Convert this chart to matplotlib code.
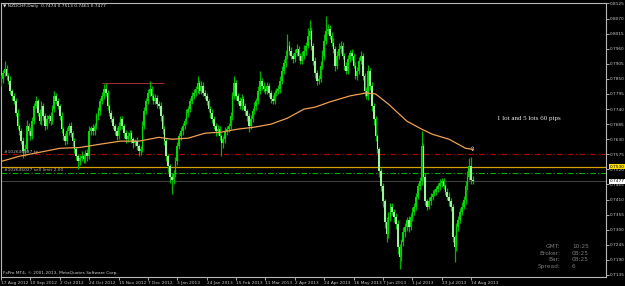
import matplotlib
matplotlib.use("Agg")
import matplotlib.pyplot as plt
import numpy as np

# ---------------- data ----------------
symbol_title = "NZDCHF,Daily  0.7474 0.7513 0.7461 0.7477"
open0 = 0.7835
closes = [
0.7850,0.7872,0.7887,0.7861,0.7843,0.7806,0.7788,0.7769,0.7725,0.7678,
0.7659,0.7623,0.7586,0.7593,0.7678,0.7659,0.7641,0.7696,0.7751,0.7769,
0.7725,0.7696,0.7751,0.7714,0.7678,0.7703,0.7714,0.7696,0.7740,0.7788,
0.7769,0.7751,0.7714,0.7667,0.7641,0.7623,0.7659,0.7678,0.7652,0.7623,
0.7593,0.7568,0.7549,0.7560,0.7568,0.7557,0.7579,0.7568,0.7659,0.7670,
0.7659,0.7678,0.7714,0.7733,0.7769,0.7788,0.7813,0.7799,0.7751,0.7725,
0.7703,0.7678,0.7659,0.7641,0.7678,0.7703,0.7678,0.7652,0.7630,0.7641,
0.7652,0.7630,0.7615,0.7623,0.7604,0.7586,0.7593,0.7678,0.7733,0.7769,
0.7799,0.7813,0.7788,0.7769,0.7780,0.7758,0.7751,0.7714,0.7667,0.7623,
0.7568,0.7531,0.7494,0.7483,0.7505,0.7549,0.7604,0.7641,0.7659,0.7678,
0.7696,0.7725,0.7740,0.7769,0.7788,0.7799,0.7813,0.7835,0.7806,0.7824,
0.7799,0.7788,0.7769,0.7740,0.7725,0.7703,0.7678,0.7659,0.7667,0.7641,
0.7615,0.7630,0.7659,0.7667,0.7678,0.7714,0.7788,0.7835,0.7788,0.7769,
0.7751,0.7777,0.7751,0.7733,0.7714,0.7678,0.7703,0.7733,0.7751,0.7769,
0.7806,0.7843,0.7824,0.7813,0.7806,0.7824,0.7799,0.7777,0.7769,0.7799,
0.7806,0.7813,0.7843,0.7879,0.7909,0.7934,0.7971,0.7953,0.7934,0.7923,
0.7945,0.7960,0.7934,0.7916,0.7934,0.7953,0.7971,0.8008,0.8026,0.7971,
0.7916,0.7872,0.7843,0.7850,0.7898,0.7934,0.7989,0.8026,0.8033,0.8008,
0.7982,0.7960,0.7898,0.7934,0.7960,0.7971,0.7934,0.7898,0.7879,0.7923,
0.7945,0.7934,0.7898,0.7861,0.7879,0.7916,0.7934,0.7861,0.7806,0.7788,
0.7879,0.7824,0.7751,0.7703,0.7641,0.7593,0.7513,0.7458,0.7403,0.7329,
0.7285,0.7348,0.7384,0.7366,0.7348,0.7322,0.7238,0.7201,0.7256,0.7293,
0.7311,0.7337,0.7311,0.7348,0.7366,0.7384,0.7421,0.7458,0.7476,0.7604,
0.7494,0.7403,0.7384,0.7403,0.7421,0.7432,0.7439,0.7447,0.7458,0.7469,
0.7476,0.7458,0.7439,0.7421,0.7403,0.7384,0.7274,0.7238,0.7311,0.7337,
0.7366,0.7384,0.7410,0.7458,0.7494,0.7531,0.7483,0.7477,
]
# upper / lower shadows in pips beyond the candle body
wick_up = [
14,10,29,12,9,16,8,12,10,14, 9,12,15,18,22,10,14,16,12,20,
8,14,18,10,12,15,9,14,16,18, 12,10,9,14,8,12,16,10,14,9,
12,8,10,14,18,9,12,16,20,10, 14,12,10,16,12,14,18,22,10,8,
12,10,9,14,16,12,10,8,12,14, 10,12,9,8,14,10,12,18,16,12,
14,30,12,10,16,12,10,14,8,12, 10,9,8,12,14,18,16,12,14,10,
12,14,10,12,14,16,12,26,10,18, 14,12,10,8,12,14,10,12,16,10,
8,12,14,10,12,16,14,26,12,10, 14,18,10,12,8,10,14,12,16,12,
18,36,12,14,10,16,12,10,14,12, 10,14,16,18,12,20,44,16,12,10,
14,18,10,12,16,20,14,26,37,12, 10,14,12,16,18,20,24,55,18,12,
14,16,10,18,22,16,12,10,14,16, 12,14,10,12,16,14,18,12,10,14,
20,12,14,10,12,8,10,12,14,10, 16,18,12,14,10,12,14,10,12,16,
12,10,14,12,16,12,14,12,16,55, 14,12,10,16,12,14,10,12,14,16,
12,14,10,12,16,12,10,8,14,12, 14,16,12,18,22,29,35,12,
]
wick_dn = [
12,14,10,16,12,10,14,12,10,12, 14,12,26,16,10,12,14,10,12,8,
12,10,14,12,16,10,12,14,10,12, 10,12,14,16,12,14,10,12,14,16,
12,14,29,12,10,14,12,16,10,12, 14,12,10,12,14,10,12,10,14,12,
10,12,14,12,10,14,12,16,12,10, 12,14,16,10,12,18,14,10,12,10,
12,10,14,12,10,14,12,16,18,14, 16,20,24,51,18,14,12,10,14,12,
10,12,14,10,12,10,12,14,10,12, 12,10,14,12,16,14,12,18,12,14,
47,16,12,14,12,10,14,12,16,10, 12,14,10,16,18,22,12,10,12,14,
10,12,14,12,10,12,16,14,12,10, 12,10,14,12,10,14,12,16,12,14,
10,12,14,12,10,12,14,10,12,16, 14,18,16,12,10,12,14,10,12,14,
12,14,20,12,10,14,12,16,12,10, 12,14,10,12,16,12,10,14,18,12,
14,16,18,20,16,14,22,18,20,24, 28,14,16,12,18,20,26,44,14,16,
18,14,20,12,16,14,12,10,14,12, 16,14,12,10,12,14,10,12,10,12,
12,10,14,12,16,14,20,55,16,14, 12,14,10,16,12,14,18,12,
]
# moving average (read at sample bars)
ma_bars = [0, 10, 17, 32, 43, 54, 65, 75, 86, 93, 102, 111, 120, 129, 138, 147,
           156, 165, 171, 179, 190, 199, 204, 211, 221, 229, 235, 244, 253, 257]
ma_vals = [0.7549, 0.7568, 0.7577, 0.7597, 0.7600, 0.7612, 0.7623, 0.7623, 0.7637,
           0.7630, 0.7634, 0.7652, 0.7656, 0.7667, 0.7674, 0.7685, 0.7707, 0.7740,
           0.7747, 0.7766, 0.7788, 0.7799, 0.7795, 0.7758, 0.7696, 0.7667, 0.7648,
           0.7630, 0.7597, 0.7593]
date_bars = list(range(0, 257, 16))
date_labels = ["17 Aug 2012", "10 Sep 2012", "2 Oct 2012", "24 Oct 2012", "15 Nov 2012",
               "7 Dec 2012", "3 Jan 2013", "24 Jan 2013", "15 Feb 2013", "11 Mar 2013",
               "2 Apr 2013", "24 Apr 2013", "16 May 2013", "7 Jun 2013", "1 Jul 2013",
               "23 Jul 2013", "14 Aug 2013"]
price_ticks = [0.8125, 0.8070, 0.8015, 0.7960, 0.7905, 0.7850, 0.7795, 0.7740, 0.7685,
               0.7630, 0.7575, 0.7520, 0.7465, 0.7410, 0.7355, 0.7300, 0.7245, 0.7190, 0.7135]
tp_level = 0.7575
alert_level = 0.7530
sell_limit_level = 0.7508
bid_level = 0.7477
resistance_level = 0.7836
resistance_bars = (55, 89)
info_keys = ["GMT:", "Broker:", "Bar:", "Spread:"]
info_vals = ["10:25", "08:25", "08:25", "6"]

# ---------------- figure ----------------
W, H = 625, 286
fig = plt.figure(figsize=(W / 100, H / 100), dpi=100, facecolor="black")
ax = fig.add_axes([1 / W, 9 / H, 605 / W, 274 / H], facecolor="black")

px_per_bar = 1.838
ax.set_xlim((1 - 0.5) / px_per_bar, (606 - 0.5) / px_per_bar)
ax.set_ylim(0.71277, 0.81268)

n = len(closes)
closes_a = np.array(closes)
opens_a = np.concatenate([[open0], closes_a[:-1]])
top = np.maximum(opens_a, closes_a)
bot = np.minimum(opens_a, closes_a)
highs = top + np.array(wick_up) * 0.0001
lows = bot - np.array(wick_dn) * 0.0001
idx = np.arange(n)

wick_col = "#00b400"
ax.vlines(idx, lows, highs, color=wick_col, lw=0.9, zorder=3)
bull = closes_a >= opens_a
ax.bar(idx[bull], (top - bot)[bull], bottom=bot[bull], width=0.9,
       color="#00dc00", lw=0, zorder=4)
ax.bar(idx[~bull], (top - bot)[~bull], bottom=bot[~bull], width=0.9,
       color="#a0f0a0", lw=0, zorder=4)

# moving average
ax.plot(ma_bars, ma_vals, color="#f0a050", lw=0.9, zorder=5)
ax.text(ma_bars[-1], ma_vals[-1], "\u21e7", color="white", fontsize=4.5,
        ha="center", va="center", zorder=6)

# horizontal lines
ax.axhline(tp_level, color="#b00000", lw=0.8, ls=(0, (5, 2, 1, 2)), zorder=2)
ax.axhline(alert_level, color="#d4a000", lw=0.9, zorder=2)
ax.axhline(sell_limit_level, color="#00b000", lw=0.8, ls=(0, (5, 2, 1, 2)), zorder=2)
ax.axhline(bid_level, color="#404040", lw=0.8, zorder=2)
ax.hlines(resistance_level, resistance_bars[0], resistance_bars[1], color="#a03030",
          lw=0.7, zorder=2)

lbl_font = dict(color="#b0b0b0", fontsize=3.2)
ax.text(1.5, tp_level + 0.0003, "#102646037 tp", va="bottom", ha="left", **lbl_font)
ax.text(1.5, sell_limit_level + 0.0003, "#102646027 sell limit 2.00", va="bottom",
        ha="left", **lbl_font)

# axes frame / ticks
for s in ["left", "top", "right", "bottom"]:
    ax.spines[s].set_color("#b8b8b8")
    ax.spines[s].set_linewidth(0.8)
ax.yaxis.tick_right()
ax.set_yticks(price_ticks)
ax.set_yticklabels([f"{p:.4f}" for p in price_ticks])
ax.tick_params(axis="y", colors="#c8c8c8", labelsize=3.1, length=2, width=0.6, pad=0.8)
ax.set_xticks(date_bars)
ax.set_xticklabels(date_labels)
for t in ax.get_xticklabels():
    t.set_horizontalalignment("left")
ax.tick_params(axis="x", colors="#c8c8c8", labelsize=3.1, length=2, width=0.6, pad=0.8)

ytr = ax.get_yaxis_transform()
ax.text(1.006, alert_level, "0.7530", transform=ytr, fontsize=3.1, color="black",
        va="center", ha="left", clip_on=False, zorder=10,
        bbox=dict(facecolor="#ffe000", edgecolor="none", pad=0.5))
ax.text(1.006, bid_level, "0.7477", transform=ytr, fontsize=3.1, color="black",
        va="center", ha="left", clip_on=False, zorder=10,
        bbox=dict(facecolor="white", edgecolor="none", pad=0.5))

# texts
fig.text(3 / W, 1 - 6.5 / H, "\u25bc " + symbol_title, color="#e0e0e0", fontsize=3.2,
         va="center", ha="left")
fig.text(3 / W, 1 - 273 / H, "FxPro MT4, \u00a9 2001-2013, MetaQuotes Software Corp.",
         color="#d0d0d0", fontsize=3.1, va="center", ha="left")
fig.text(529 / W, 1 - 118.5 / H, "1 lot and 5 lots 60 pips", color="#e8e8e8",
         fontsize=5.0, family="Liberation Serif", va="center", ha="center")
for k, (key, val) in enumerate(zip(info_keys, info_vals)):
    yy = 1 - (246.5 + k * 6.7) / H
    fig.text(560 / W, yy, key, color="#7a7a7a", fontsize=4.2, ha="right", va="center")
    fig.text(572 / W, yy, val, color="#7a7a7a", fontsize=4.2, ha="left", va="center")

fig.savefig("out.png", dpi=100, facecolor="black")
